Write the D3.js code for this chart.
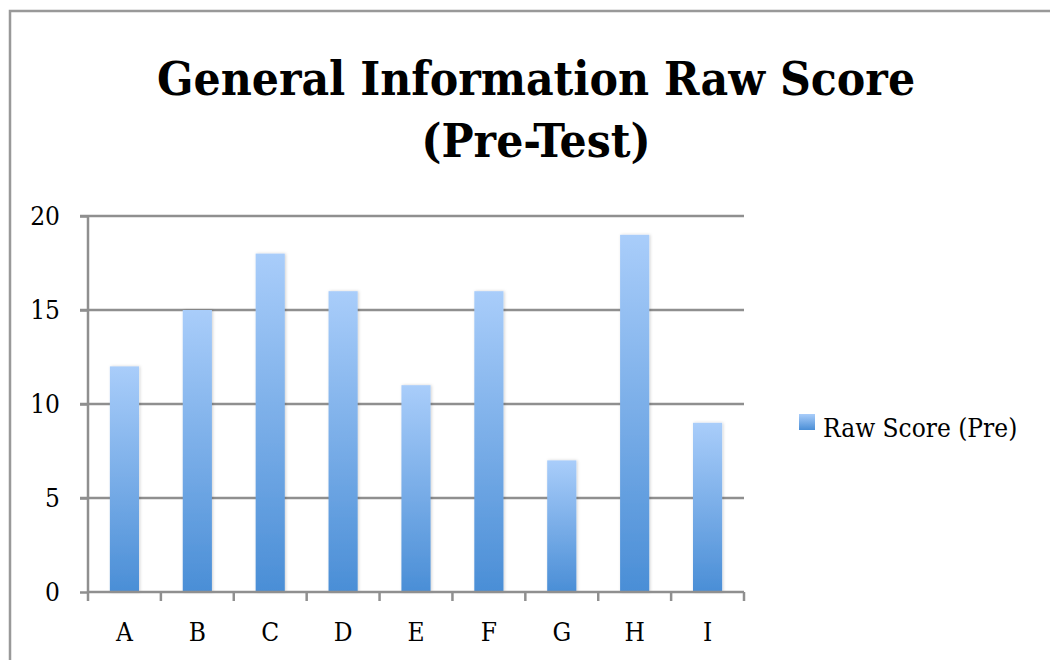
<!DOCTYPE html>
<html><head><meta charset="utf-8">
<script src="https://cdn.jsdelivr.net/npm/d3@7"></script>
<style>body{margin:0;background:#fff} text{font-stretch:condensed}</style>
</head><body>
<script>
const categories = ["A","B","C","D","E","F","G","H","I"];
const values = [12,15,18,16,11,16,7,19,9];
const yTicks = [0,5,10,15,20];
const seriesName = "Raw Score (Pre)";
const titleLines = ["General Information Raw Score","(Pre-Test)"];

const FONT="'DejaVu Serif Condensed','DejaVu Serif',serif";
const W=1050,H=660;
const svg=d3.select("body").append("svg").attr("width",W).attr("height",H);
const defs=svg.append("defs");
const g=defs.append("linearGradient").attr("id","bg").attr("x1",0).attr("y1",0).attr("x2",0).attr("y2",1);
g.append("stop").attr("offset","0%").attr("stop-color","#a9cdfa");
g.append("stop").attr("offset","100%").attr("stop-color","#4a8ed6");
const f=defs.append("filter").attr("id","sh").attr("x","-20%").attr("y","-5%").attr("width","140%").attr("height","110%");
f.append("feDropShadow").attr("dx",1).attr("dy",0).attr("stdDeviation",1.5).attr("flood-color","#000").attr("flood-opacity",0.18);

svg.append("rect").attr("x",10).attr("y",11).attr("width",1060).attr("height",700)
  .attr("fill","none").attr("stroke","#999").attr("stroke-width",2.5);

const x=d3.scaleBand().domain(categories).range([88,744]).paddingInner(0.6).paddingOuter(0.3);
const y=d3.scaleLinear().domain([0,20]).range([592,216]);

// gridlines
svg.append("g").selectAll("line").data(yTicks.filter(d=>d>0)).join("line")
  .attr("x1",80).attr("x2",744).attr("y1",d=>y(d)).attr("y2",d=>y(d))
  .attr("stroke","#8f8f8f").attr("stroke-width",2.5);

// bars
svg.append("g").selectAll("rect").data(values).join("rect")
  .attr("x",(d,i)=>x(categories[i])).attr("width",x.bandwidth())
  .attr("y",d=>y(d)).attr("height",d=>y(0)-y(d))
  .attr("fill","url(#bg)").attr("filter","url(#sh)");

// y axis
const ya=svg.append("g").attr("transform","translate(88,0)")
  .call(d3.axisLeft(y).tickValues(yTicks).tickSize(8).tickPadding(20));
ya.select(".domain").attr("stroke","#8f8f8f").attr("stroke-width",2.5).attr("d","M0,592V216");
ya.selectAll(".tick line").attr("stroke","#8f8f8f").attr("stroke-width",2.5);
ya.selectAll("text").attr("font-family",FONT).attr("font-size",26).attr("fill","#000");

// x axis
const xEdges=d3.scaleLinear().domain([0,categories.length]).range([88,744]);
const xa=svg.append("g").attr("transform","translate(0,592)")
  .call(d3.axisBottom(x).tickSize(0).tickPadding(31));
xa.select(".domain").attr("stroke","#8f8f8f").attr("stroke-width",2.5).attr("d","M88,0H744");
xa.selectAll("text").attr("font-family",FONT).attr("font-size",26).attr("fill","#000");
svg.append("g").selectAll("line").data(d3.range(categories.length+1)).join("line")
  .attr("x1",d=>xEdges(d)).attr("x2",d=>xEdges(d)).attr("y1",592).attr("y2",601)
  .attr("stroke","#8f8f8f").attr("stroke-width",2.5);

// title
svg.append("g").selectAll("text").data(titleLines).join("text")
  .attr("x",536).attr("y",(d,i)=>95+i*62).attr("text-anchor","middle")
  .attr("font-family",FONT).attr("font-weight","bold").attr("font-size",47.5)
  .attr("fill","#000").text(d=>d);

// legend
svg.append("rect").attr("x",799).attr("y",414).attr("width",16).attr("height",16).attr("fill","url(#bg)");
svg.append("text").attr("x",823).attr("y",437).attr("font-family",FONT).attr("font-size",26)
  .attr("fill","#000").text(seriesName);
</script>
</body></html>
